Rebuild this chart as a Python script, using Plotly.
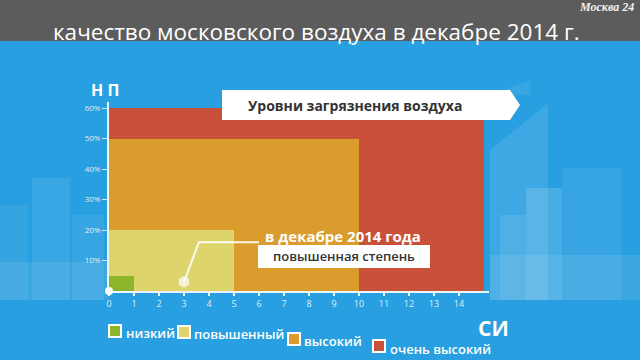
import plotly.graph_objects as go

# ---------------- data ----------------
categories = ["низкий", "повышенный", "высокий", "очень высокий"]
si_max = [1, 5, 10, 15]          # СИ extent of each level
np_max = [5, 20, 50, 60]         # НП extent of each level (%)
colors = ["#8db52c", "#ddd46c", "#d99c2d", "#c9513a"]
x_ticks = list(range(0, 15))
y_ticks = [10, 20, 30, 40, 50, 60]
y_tick_labels = ["10%", "20%", "30%", "40%", "50%", "60%"]
callout_x = [3, 3.6, 6.0]        # December 2014 marker and its leader line
callout_y = [3, 16, 16]

title_text = "качество московского воздуха в декабре 2014 г."
banner_text = "Уровни загрязнения воздуха"
callout_title = "в декабре 2014 года"
callout_label = "повышенная степень"

# ---------------- layout helpers (pixel -> paper) ----------------
W, H = 640, 360
L, R, T, B = 109, 151, 102, 69
PW, PH = W - L - R, H - T - B
def px(x):
    return (x - L) / PW
def py(y):
    return (H - B - y) / PH

BLUE = "#289fe0"
FONT = "Open Sans"

fig = go.Figure()

# bars drawn back to front
for cat, w, h, c in reversed(list(zip(categories, si_max, np_max, colors))):
    fig.add_trace(go.Bar(
        x=[w / 2], y=[h], width=[w], base=0, name=cat,
        marker=dict(color=c, line=dict(width=0)),
        showlegend=False, hoverinfo="skip",
    ))

# origin dot
fig.add_trace(go.Scatter(x=[0], y=[0], mode="markers",
                         marker=dict(color="white", size=8),
                         cliponaxis=False, showlegend=False, hoverinfo="skip"))

# callout leader
fig.add_trace(go.Scatter(
    x=callout_x, y=callout_y, mode="lines+markers",
    line=dict(color="rgba(255,255,255,0.9)", width=2),
    marker=dict(size=[10, 0, 0], color="white"),
    cliponaxis=False, showlegend=False, hoverinfo="skip"))

shapes = []
# background decorations (skyline / glass panel)
deco = [
    # left skyline
    (0, 205, 28, 300, 0.06), (32, 178, 70, 300, 0.08), (72, 215, 104, 300, 0.07),
    (0, 262, 108, 300, 0.09),
    # right skyline
    (500, 215, 526, 300, 0.09), (526, 188, 562, 300, 0.15), (562, 168, 622, 300, 0.07),
    (490, 255, 640, 300, 0.09),
]
for x0, y0, x1, y1, a in deco:
    shapes.append(dict(type="rect", xref="paper", yref="paper",
                       x0=px(x0), x1=px(x1), y0=py(y1), y1=py(y0),
                       fillcolor=f"rgba(255,255,255,{a})", line=dict(width=0), layer="below"))
# glass diagonal panel on the right
shapes.append(dict(type="path", xref="paper", yref="paper", layer="below",
                   path=f"M {px(490)},{py(150)} L {px(548)},{py(103)} L {px(548)},{py(300)} L {px(490)},{py(300)} Z",
                   fillcolor="rgba(255,255,255,0.10)", line=dict(width=0)))
shapes.append(dict(type="path", xref="paper", yref="paper", layer="below",
                   path=f"M {px(490)},{py(95)} L {px(530)},{py(80)} L {px(530)},{py(95)} Z",
                   fillcolor="rgba(255,255,255,0.08)", line=dict(width=0)))
# top grey bar
shapes.append(dict(type="rect", xref="paper", yref="paper",
                   x0=px(0), x1=px(W), y0=py(41), y1=py(0),
                   fillcolor="#5c5c5c", line=dict(width=0), layer="below"))

# banner arrow
shapes.append(dict(type="path", xref="paper", yref="paper", layer="above",
                   path=(f"M {px(222)},{py(90)} L {px(510)},{py(90)} L {px(520)},{py(105)} "
                         f"L {px(510)},{py(120)} L {px(222)},{py(120)} Z"),
                   fillcolor="white", line=dict(width=0)))
# callout label box
shapes.append(dict(type="rect", xref="paper", yref="paper", layer="above",
                   x0=px(258), x1=px(430), y0=py(268), y1=py(245),
                   fillcolor="white", line=dict(width=0)))

annotations = []
def ann(text, x, y, size, color="white", weight=400, xanchor="center", style="normal", family=FONT):
    annotations.append(dict(text=text, xref="paper", yref="paper", x=px(x), y=py(y),
                            xanchor=xanchor, yanchor="middle", showarrow=False,
                            font=dict(family=family, size=size, color=color,
                                      weight=weight, style=style)))

ann(title_text, 316, 31, 22.5)
ann("Москва 24", 606, 7, 12, color="#f2f2f2", weight=700, style="italic", family="Liberation Serif")
ann(banner_text, 355, 105, 14, color="#333333", weight=700)
ann(callout_title, 343, 236, 15, weight=700)
ann(callout_label, 344, 256, 13, color="#333333", weight=600)
ann("Н П", 105, 90, 16, weight=700)
ann("СИ", 493, 328, 21, weight=700)

# custom legend (tilted row like the original)
leg = [(115, 331, 124, 333), (184, 332, 192, 334), (294, 339, 302, 341), (379, 346, 388, 349)]
for (sx, sy, tx, ty), cat, c in zip(leg, categories, colors):
    shapes.append(dict(type="rect", xref="paper", yref="paper", layer="above",
                       x0=px(sx - 6), x1=px(sx + 6), y0=py(sy + 6), y1=py(sy - 6),
                       fillcolor=c, line=dict(color="white", width=2)))
    ann(cat, tx, ty, 13, weight=600, xanchor="left")

fig.update_layout(
    width=W, height=H,
    margin=dict(l=L, r=R, t=T, b=B, pad=0),
    paper_bgcolor=BLUE, plot_bgcolor="rgba(0,0,0,0)",
    barmode="overlay", bargap=0,
    shapes=shapes, annotations=annotations,
    showlegend=False,
    xaxis=dict(range=[0, 15.2], tickvals=x_ticks, showgrid=False, zeroline=False,
               showline=True, linecolor="rgba(255,255,255,0.9)", linewidth=2,
               ticks="outside", ticklen=3, tickwidth=2, tickcolor="rgba(255,255,255,0.9)",
               tickfont=dict(family=FONT, size=9, color="rgba(255,255,255,0.85)"),
               fixedrange=True),
    yaxis=dict(range=[0, 62], tickvals=y_ticks, ticktext=y_tick_labels,
               showgrid=False, zeroline=False,
               showline=True, linecolor="rgba(255,255,255,0.9)", linewidth=2,
               ticks="outside", ticklen=5, tickwidth=1, tickcolor="rgba(255,255,255,0.8)",
               tickfont=dict(family=FONT, size=8, color="rgba(255,255,255,0.85)"),
               fixedrange=True),
)

fig.write_html("out.html", config=dict(displayModeBar=False))
